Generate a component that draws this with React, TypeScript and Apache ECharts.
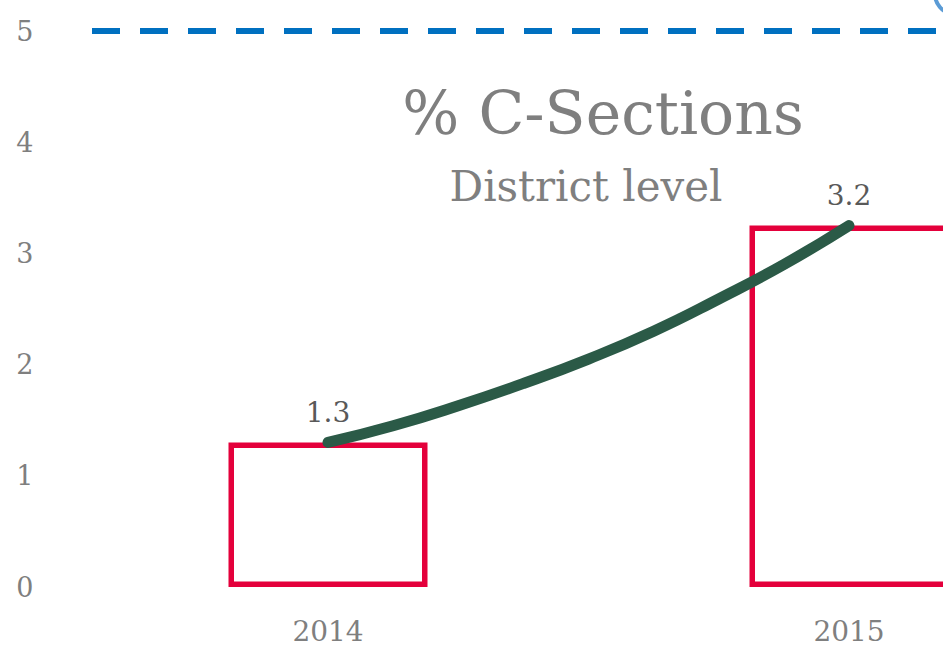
import React, { useEffect, useRef } from "react";
import * as echarts from "echarts";

const categories = ["2014", "2015"];
const values = [1.3, 3.25];
const valueLabels = ["1.3", "3.2"];
// trend curve (x in category index units)
const trendX = [0, 0.125, 0.25, 0.375, 0.5, 0.625, 0.75, 0.875, 1];
const trendY = [1.3, 1.45, 1.63, 1.83, 2.05, 2.3, 2.59, 2.9, 3.25];
const targetValue = 5;
const yMin = 0;
const yMax = 5;
const yInterval = 1;
const titleText = "% C-Sections";
const subtitleText = "District level";

const FONT = "DejaVu Serif";
const GRAY = "#7f7f7f";

export default function App() {
  const ref = useRef<HTMLDivElement>(null);
  useEffect(() => {
    if (!ref.current) return;
    const chart = echarts.init(ref.current, null, { renderer: "svg" });
    chart.setOption({
      animation: false,
      backgroundColor: "#ffffff",
      title: [
        {
          text: titleText,
          left: 598,
          top: 78,
          textAlign: "center",
          textStyle: { fontFamily: FONT, fontSize: 60, fontWeight: "normal", color: GRAY },
        },
        {
          text: subtitleText,
          left: 581,
          top: 160,
          textAlign: "center",
          textStyle: { fontFamily: FONT, fontSize: 42, fontWeight: "normal", color: GRAY },
        },
      ],
      grid: [
        { left: 67.5, top: 31, width: 1042, height: 556 },
        { left: 92, top: 31, width: 1042, height: 556 },
      ],
      xAxis: [
        {
          type: "category",
          data: categories,
          gridIndex: 0,
          axisLine: { show: false },
          axisTick: { show: false },
          axisLabel: { fontFamily: FONT, fontSize: 28, color: GRAY, margin: 30 },
        },
        { type: "value", gridIndex: 0, min: -0.5, max: 1.5, show: false },
        { type: "value", gridIndex: 1, min: 0, max: 1, show: false },
      ],
      yAxis: [
        {
          type: "value",
          gridIndex: 0,
          min: yMin,
          max: yMax,
          interval: yInterval,
          axisLine: { show: false },
          axisTick: { show: false },
          splitLine: { show: false },
          axisLabel: { fontFamily: FONT, fontSize: 27, color: GRAY, margin: 34, align: "right" },
        },
        { type: "value", gridIndex: 1, min: yMin, max: yMax, show: false, splitLine: { show: false } },
      ],
      series: [
        {
          type: "bar",
          xAxisIndex: 0,
          yAxisIndex: 0,
          data: values,
          barWidth: 199,
          itemStyle: { color: "rgba(255,255,255,0)", borderColor: "#e4003b", borderWidth: 5.5 },
          label: {
            show: true,
            position: "top",
            distance: 16,
            fontFamily: FONT,
            fontSize: 28,
            color: "#595959",
            formatter: (p: any) => valueLabels[p.dataIndex],
          },
          z: 2,
        },
        {
          type: "line",
          xAxisIndex: 1,
          yAxisIndex: 0,
          data: trendX.map((x, i) => [x, trendY[i]]),
          smooth: true,
          symbol: "none",
          lineStyle: { color: "#2b5a47", width: 11, cap: "round" },
          z: 3,
        },
        {
          type: "line",
          xAxisIndex: 2,
          yAxisIndex: 1,
          data: [],
          symbol: "none",
          markLine: {
            silent: true,
            symbol: "none",
            label: { show: false },
            lineStyle: { color: "#0070c0", width: 6, type: [28, 20] },
            data: [{ yAxis: targetValue }],
          },
        },
      ],
      graphic: [
        {
          type: "arc",
          shape: { cx: 955, cy: -6, r: 20, startAngle: Math.PI * 0.55, endAngle: Math.PI * 1.0 },
          style: { stroke: "#5b9bd5", lineWidth: 4, fill: "none" },
        },
      ],
    });
    return () => chart.dispose();
  }, []);
  return (
    <div style={{ position: "fixed", left: 0, top: 0, width: 943, height: 654, overflow: "hidden" }}>
      <div ref={ref} style={{ width: 1200, height: 654 }} />
    </div>
  );
}
